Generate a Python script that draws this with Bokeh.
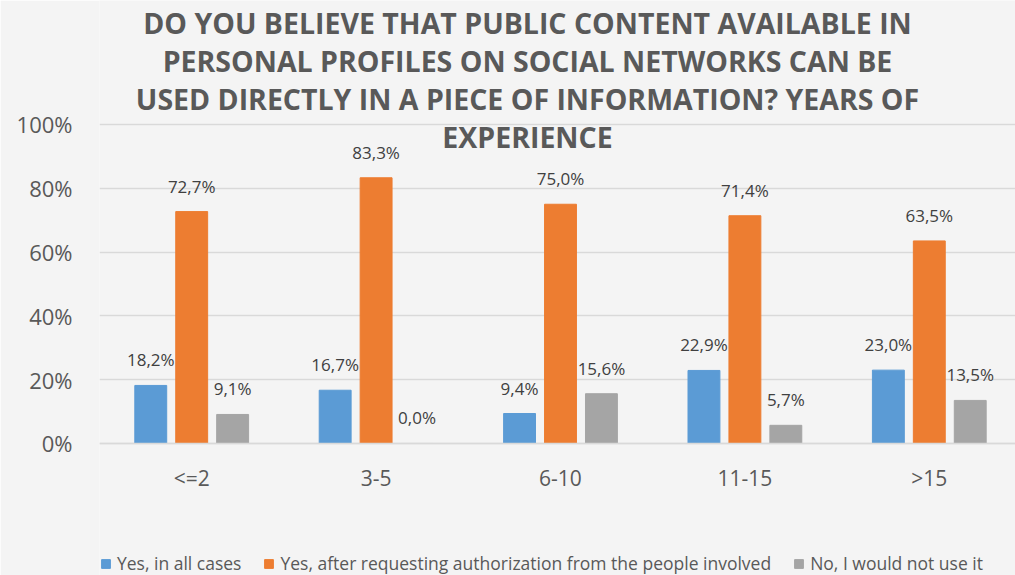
from bokeh.plotting import figure
from bokeh.models import (ColumnDataSource, Range1d, FixedTicker, Legend, LegendItem, Label)
from bokeh.transform import dodge
from bokeh.core.properties import value
from bokeh.embed import file_html
from bokeh.resources import INLINE

categories = ["<=2", "3-5", "6-10", "11-15", ">15"]
yes_all = [18.2, 16.7, 9.4, 22.9, 23.0]
yes_auth = [72.7, 83.3, 75.0, 71.4, 63.5]
no_use = [9.1, 0.0, 15.6, 5.7, 13.5]
series_names = ["Yes, in all cases",
                "Yes, after requesting authorization from the people involved",
                "No, I would not use it"]
y_ticks = [0, 20, 40, 60, 80, 100]
y_tick_labels = ["0%", "20%", "40%", "60%", "80%", "100%"]
title_lines = ["DO YOU BELIEVE THAT PUBLIC CONTENT AVAILABLE IN",
               "PERSONAL PROFILES ON SOCIAL NETWORKS CAN BE",
               "USED DIRECTLY IN A PIECE OF INFORMATION? YEARS OF",
               "EXPERIENCE"]

colors = ["#5b9bd5", "#ed7d31", "#a5a5a5"]
FONT = "Open Sans"
BG = "#f4f4f4"

def fmt(v):
    return ("%.1f" % v).replace(".", ",") + "%"

src = ColumnDataSource(dict(
    x=list(range(len(categories))),
    a=yes_all, b=yes_auth, c=no_use,
    la=[fmt(v) for v in yes_all],
    lb=[fmt(v) for v in yes_auth],
    lc=[fmt(v) for v in no_use],
))

p = figure(width=1015, height=575, output_backend="svg", toolbar_location=None,
           x_range=Range1d(-0.5, 4.5 - 6 / 184.5), y_range=Range1d(-41.38, 138.87),
           min_border_left=99, min_border_right=0, min_border_top=0,
           min_border_bottom=0, background_fill_color=BG,
           border_fill_color=BG, outline_line_color=None)

offs = [-0.222, 0.0, 0.222]
cols = ["a", "b", "c"]
lcols = ["la", "lb", "lc"]
rends = []
for off, col, lc, color in zip(offs, cols, lcols, colors):
    r = p.vbar(x=dodge("x", off, range=p.x_range), top=col, width=0.173,
               source=src, fill_color=color, line_color=color)
    rends.append(r)
    p.text(x=dodge("x", off, range=p.x_range), y=col, text=lc, source=src,
           text_align="center", text_baseline="bottom", y_offset=-14,
           text_font=value(FONT), text_font_size="17px", text_color="#404040")

# axes
p.xaxis.fixed_location = 0
p.xaxis.ticker = FixedTicker(ticks=list(range(len(categories))))
p.xaxis.major_label_overrides = {i: c for i, c in enumerate(categories)}
p.xaxis.major_tick_line_color = None
p.xaxis.minor_tick_line_color = None
p.xaxis.axis_line_color = "#d9d9d9"
p.xaxis.axis_line_width = 1.5
p.xaxis.major_label_text_font = FONT
p.xaxis.major_label_text_font_size = "21px"
p.xaxis.major_label_text_color = "#595959"
p.xaxis.major_label_standoff = 15

p.yaxis.ticker = FixedTicker(ticks=y_ticks)
p.yaxis.major_label_overrides = {t: l for t, l in zip(y_ticks, y_tick_labels)}
p.yaxis.major_tick_line_color = None
p.yaxis.minor_tick_line_color = None
p.yaxis.axis_line_color = None
p.yaxis.major_label_text_font = FONT
p.yaxis.major_label_text_font_size = "22px"
p.yaxis.major_label_text_color = "#595959"
p.yaxis.major_label_standoff = 21

p.xgrid.grid_line_color = None
p.ygrid.grid_line_color = "#d9d9d9"
p.ygrid.grid_line_width = 1.5
p.ygrid.ticker = FixedTicker(ticks=y_ticks)

# title
for i, line in enumerate(title_lines):
    p.add_layout(Label(x=428, y=553 - i * 38, x_units="screen", y_units="screen",
                       text=line, text_align="center", text_baseline="middle",
                       text_font=FONT, text_font_size="28.5px", text_font_style="bold",
                       text_color="#595959"))

legend = Legend(items=[LegendItem(label=n, renderers=[r]) for n, r in zip(series_names, rends)],
                orientation="horizontal", location=(-1, -2),
                glyph_width=11, glyph_height=11, label_standoff=6, spacing=22,
                label_text_font=FONT, label_text_font_size="17.5px",
                label_text_color="#595959", background_fill_alpha=0,
                border_line_alpha=0, padding=2, margin=0)
p.add_layout(legend, "center")

open("out.html", "w").write(file_html(p, INLINE))
